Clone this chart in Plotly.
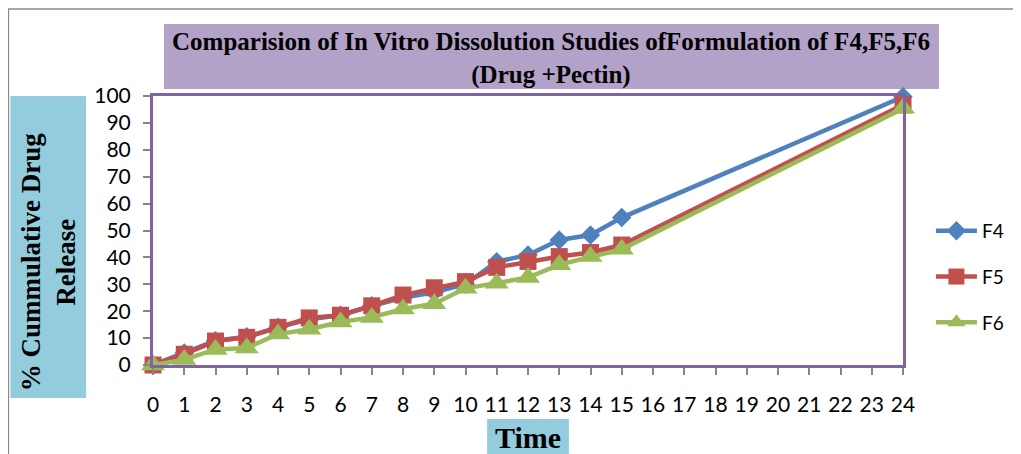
import plotly.graph_objects as go

# ── Data ──────────────────────────────────────────────────────────────────────
time_hours = [0, 1, 2, 3, 4, 5, 6, 7, 8, 9, 10, 11, 12, 13, 14, 15, 24]
f4_release = [0, 4.5, 9, 10.5, 14, 17, 18.5, 22, 25, 27, 30, 38.4, 40.9, 46.5, 48.3, 54.8, 99.7]
f5_release = [0, 4, 8.9, 10.3, 14, 17.5, 18.5, 22, 26, 28.7, 31, 36.3, 38.5, 40.3, 41.8, 44.6, 96.7]
f6_release = [0, 2, 5.8, 6.3, 11.5, 13.3, 16, 17.7, 20.8, 22.8, 28.5, 30.4, 32.5, 37.3, 40.3, 43, 95.4]
x_ticks = list(range(0, 25))
y_ticks = list(range(0, 101, 10))

# ── Geometry helpers (reference pixel -> paper) ───────────────────────────────
# page body has an 8px margin, so the figure is shrunk and offset by that amount
OFF = 8
W, H = 1021 - OFF, 454 - OFF
L, R, T, B = 153, 905, 96, 365   # plot area in reference pixels


def px(x):
    return (x - L) / (R - L)


def py(y):
    return (B - y) / (B - T)


SERIF = "Liberation Serif, Times New Roman, serif"
SANS = "Lato, Open Sans, sans-serif"

fig = go.Figure()

series = [
    ("F4", f4_release, "#4F81BD", "diamond", 15),
    ("F5", f5_release, "#C0504D", "square", 17),
    ("F6", f6_release, "#9BBB59", "triangle-up", 21),
]
for name, ys, color, symbol, size in series:
    fig.add_trace(go.Scatter(
        x=time_hours,
        y=ys,
        name=name,
        legendgroup=name,
        mode="lines+markers",
        line=dict(color=color, width=4.5),
        marker=dict(symbol=symbol, size=size, color=color),
        cliponaxis=False,
    ))

# ── Decorative boxes ──────────────────────────────────────────────────────────
shapes = [
    # outer chart frame (only top/left visible)
    dict(type="rect", xref="paper", yref="paper", x0=px(8), x1=px(1040), y0=py(9), y1=py(470),
         line=dict(color="#8a8a8a", width=1.5), fillcolor="rgba(0,0,0,0)", layer="below"),
    # title box
    dict(type="rect", xref="paper", yref="paper", x0=px(164), x1=px(941), y0=py(24), y1=py(89),
         line=dict(width=0), fillcolor="#B3A2C7", layer="below"),
    # y-axis title box
    dict(type="rect", xref="paper", yref="paper", x0=px(10), x1=px(86), y0=py(96), y1=py(398),
         line=dict(width=0), fillcolor="#93CDDD", layer="below"),
    # x-axis title box
    dict(type="rect", xref="paper", yref="paper", x0=px(488), x1=px(570), y0=py(419), y1=py(460),
         line=dict(width=0), fillcolor="#93CDDD", layer="below"),
]

annotations = [
    dict(text="<b>Comparision of In Vitro Dissolution Studies ofFormulation of F4,F5,F6<br>(Drug +Pectin)</b>",
         xref="paper", yref="paper", x=px(552), y=py(59), xanchor="center", yanchor="middle",
         showarrow=False, font=dict(family=SERIF, size=25, color="black"), align="center"),
    dict(text="<b>% Cummulative Drug<br>Release</b>",
         xref="paper", yref="paper", x=px(48), y=py(262), xanchor="center", yanchor="middle",
         showarrow=False, textangle=-90,
         font=dict(family=SERIF, size=27, color="black"), align="center"),
    dict(text="<b>Time</b>",
         xref="paper", yref="paper", x=px(529), y=py(438), xanchor="center", yanchor="middle",
         showarrow=False, font=dict(family=SERIF, size=30, color="black")),
]

fig.update_layout(
    width=W,
    height=H,
    margin=dict(l=L - OFF, r=W - (R - OFF), t=T - OFF, b=H - (B - OFF)),
    paper_bgcolor="white",
    plot_bgcolor="white",
    shapes=shapes,
    annotations=annotations,
    showlegend=True,
    legend=dict(
        x=px(933), y=py(277), xanchor="left", yanchor="middle",
        font=dict(family=SANS, size=19, color="black"),
        traceorder="grouped", tracegroupgap=18, itemwidth=41,
        bgcolor="rgba(0,0,0,0)",
    ),
    xaxis=dict(
        range=[0, 24], tickvals=x_ticks, ticktext=[str(v) for v in x_ticks],
        showgrid=False, zeroline=False,
        showline=True, mirror=True, linecolor="#8064A2", linewidth=3,
        ticks="outside", ticklen=7, tickwidth=1.5, tickcolor="#868686",
        ticklabelstandoff=12,
        tickfont=dict(family=SANS, size=21, color="black"),
    ),
    yaxis=dict(
        range=[0, 100], tickvals=y_ticks,
        showgrid=False, zeroline=False,
        showline=True, mirror=True, linecolor="#8064A2", linewidth=3,
        ticks="outside", ticklen=7, tickwidth=1.5, tickcolor="#868686",
        ticklabelstandoff=8,
        tickfont=dict(family=SANS, size=21, color="black"),
    ),
)

fig.write_html("out.html")
